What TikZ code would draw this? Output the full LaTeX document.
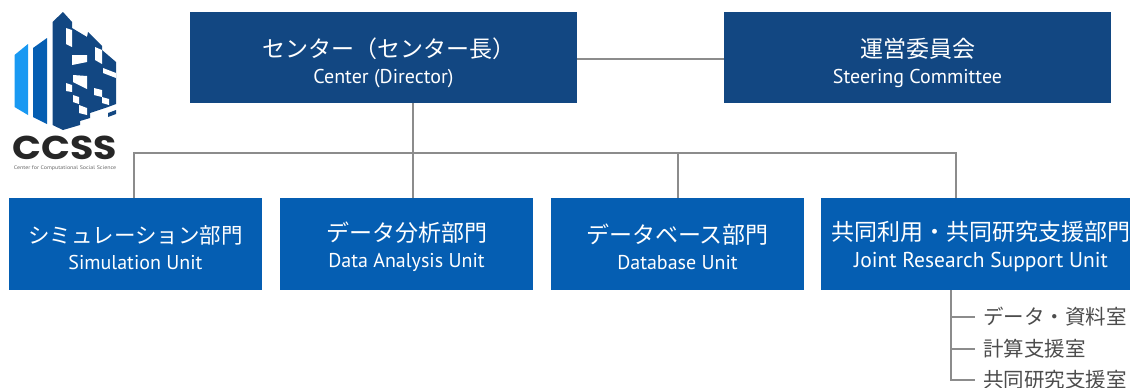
\documentclass[tikz,border=0pt]{standalone}
\usepackage{fontspec}
\setmainfont{PT Sans}
\newfontfamily\cjk{Noto Sans CJK JP}
\newfontfamily\logofont{Poppins}
\usepackage{tikz}
\definecolor{mnavy}{rgb}{0.07, 0.28, 0.51}
\definecolor{mblue}{rgb}{0.02, 0.37, 0.70}
\definecolor{msky}{rgb}{0.10, 0.60, 0.95}
\definecolor{mline}{rgb}{0.55, 0.55, 0.55}
\tikzset{topbox/.style = {fill=mnavy, text=white, minimum width=387, minimum height=91, inner sep=0, align=center}}
\tikzset{unitbox/.style = {fill=mblue, text=white, minimum width=253, minimum height=92, inner sep=0, align=center}}
\tikzset{wire/.style = {draw=mline, line width=1.8}}
\tikzset{room/.style = {anchor=west, inner sep=0, text=black!70, font=\cjk\fontsize{20.5}{22}\selectfont}}
\newcommand{\boxlabel}[4][23]{{\cjk\fontsize{#1}{26}\selectfont\rule{0pt}{#2pt}#3}\\[9pt]{\fontsize{20}{20}\selectfont #4}}
\begin{document}
\begin{tikzpicture}[x=1pt, y=-1pt]
      \useasboundingbox (0, 0) rectangle (1130, 388);
      \clip (0, 0) rectangle (1130, 388);

      % logo
      \fill [msky] (14.5, 55) -- (28, 44) -- (28, 115) -- (14.5, 107) -- cycle;
      \fill [mblue] (33, 48) -- (47, 38) -- (47, 124) -- (33, 117) -- cycle;
      \fill [mnavy] (52.5, 22) -- (63, 12) -- (72, 22) -- (72, 28) -- (87, 37) -- (88, 32) -- (102, 46) -- (102, 50) -- (116, 62) -- (116, 104) -- (108, 107) -- (90, 113) -- (90, 118) -- (80, 121) -- (80, 125) -- (63, 130) -- (52.5, 125) -- cycle;
      \fill [mnavy] (108, 113) -- (116, 110) -- (116, 114) -- (108, 117) -- cycle;
      \fill [white] (66, 28) -- (72, 30) -- (72, 47) -- (66, 44) -- cycle;
      \fill [white] (72, 55) -- (87, 55) -- (87, 62) -- (72, 65) -- cycle;
      \fill [white] (95, 47) -- (102, 50) -- (102, 64) -- (95, 60) -- cycle;
      \fill [white] (73, 75) -- (87, 76) -- (87, 89) -- (73, 82) -- cycle;
      \fill [white] (103, 68) -- (116, 73) -- (116, 78) -- (103, 73) -- cycle;
      \fill [white] (66, 83) -- (72, 85) -- (72, 92) -- (66, 91) -- cycle;
      \fill [white] (73, 95) -- (79, 97) -- (79, 104) -- (73, 102) -- cycle;
      \fill [white] (94, 88) -- (102, 90) -- (102, 97) -- (94, 95) -- cycle;
      \fill [white] (102, 97) -- (109, 99) -- (109, 105) -- (102, 103) -- cycle;
      \fill [white] (79, 105) -- (87, 108) -- (87, 115) -- (79, 113) -- cycle;
      \node (ccss) [inner sep=0, xscale=1.15, text=black!85, font=\logofont\bfseries\fontsize{33}{33}\selectfont] at (65, 148) {CCSS};
      \node (ccsssub) [inner sep=0, xscale=1.15, text=black!60, font=\fontsize{5.2}{5.5}\selectfont] at (65, 168) {Center for Computational Social Science};

      \node (center) [topbox] at (383.5, 57.5) {\boxlabel{30}{\hspace*{10pt}センター（センター長）}{Center (Director)}};
      \node (steering) [topbox] at (917.5, 57.5) {\boxlabel{30}{運営委員会}{Steering Committee}};

      \node (simulation) [unitbox] at (135.5, 244) {\boxlabel[21.5]{25}{シミュレーション部門}{Simulation Unit}};
      \node (analysis) [unitbox] at (406.5, 244) {\boxlabel{25}{データ分析部門}{Data Analysis Unit}};
      \node (database) [unitbox] at (677.5, 244) {\boxlabel{25}{データベース部門}{Database Unit}};
      \node (joint) [unitbox, minimum width=320] at (981, 244) {\boxlabel{25}{共同利用・共同研究支援部門}{\fontsize{21.5}{22}\selectfont Joint Research Support Unit}};

      \coordinate (bus) at (413, 153);
      \coordinate (simdrop) at (134, 198);
      \coordinate (basedrop) at (678, 198);
      \coordinate (jointdrop) at (956, 198);
      \draw [wire] (center.east |- 0, 59) -- (steering.west |- 0, 59);
      \draw [wire] (bus |- center.south) -- (bus |- analysis.north);
      \draw [wire] (simdrop) |- (bus) -| (jointdrop);
      \draw [wire] (basedrop) -- (basedrop |- bus);

      \node (archive) [room] at (983, 317) {データ・資料室};
      \node (computing) [room] at (983, 349) {計算支援室};
      \node (support) [room] at (983, 380) {共同研究支援室};
      \coordinate (trunk) at (951, 290);
      \draw [wire] (trunk) |- ([xshift=-8]support.west);
      \draw [wire] (trunk |- archive.west) -- ([xshift=-8]archive.west);
      \draw [wire] (trunk |- computing.west) -- ([xshift=-8]computing.west);
    \end{tikzpicture}
\end{document}
